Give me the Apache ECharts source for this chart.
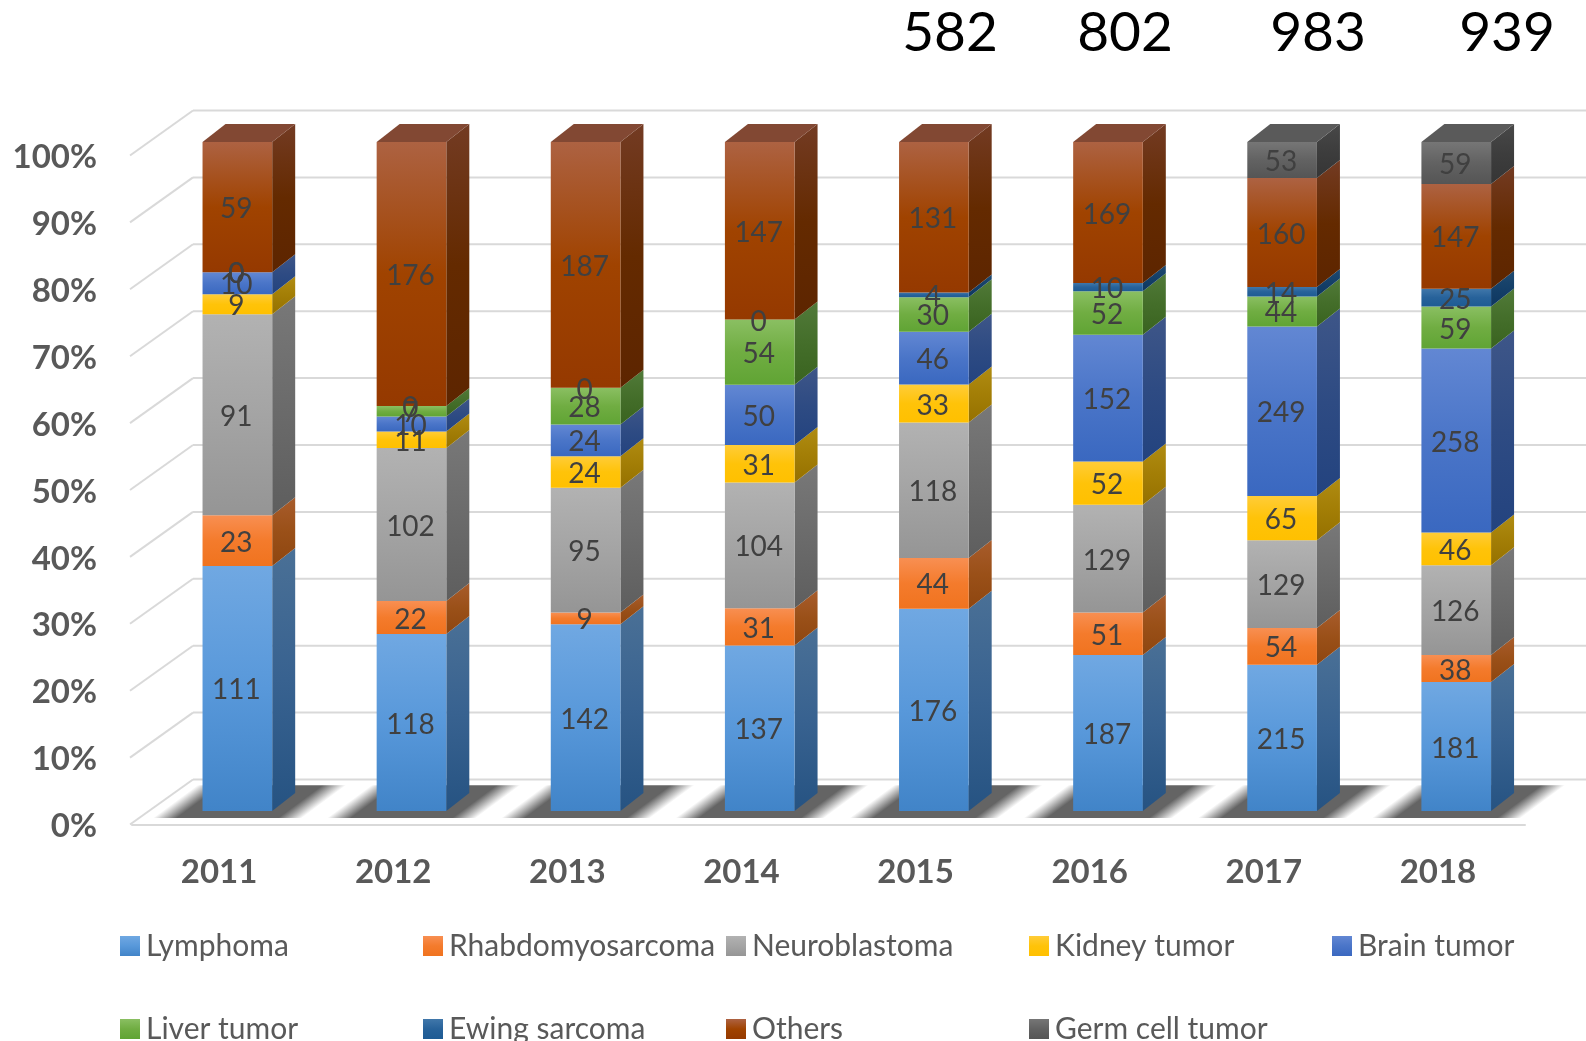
<!DOCTYPE html>
<html>
<head>
<meta charset="utf-8">
<title>Tumor types by year</title>
<script src="https://cdn.jsdelivr.net/npm/echarts@6/dist/echarts.min.js"></script>
<style>
    html, body { margin: 0; padding: 0; background: #fff; }
    #chart { width: 1586px; height: 1041px; }
</style>
</head>
<body>
<div id="chart"></div>
<script>
const years = ['2011', '2012', '2013', '2014', '2015', '2016', '2017', '2018'];
const seriesNames = ['Lymphoma', 'Rhabdomyosarcoma', 'Neuroblastoma', 'Kidney tumor', 'Brain tumor',
    'Liver tumor', 'Ewing sarcoma', 'Others', 'Germ cell tumor'];

// one value per year, null where the reference has no label at all
const lymphoma = [111, 118, 142, 137, 176, 187, 215, 181];
const rhabdomyosarcoma = [23, 22, 9, 31, 44, 51, 54, 38];
const neuroblastoma = [91, 102, 95, 104, 118, 129, 129, 126];
const kidneyTumor = [9, 11, 24, 31, 33, 52, 65, 46];
const brainTumor = [10, 10, 24, 50, 46, 152, 249, 258];
const liverTumor = [0, 7, 28, 54, 30, 52, 44, 59];
const ewingSarcoma = [0, 0, 0, 0, 4, 10, 14, 25];
const others = [59, 176, 187, 147, 131, 169, 160, 147];
const germCellTumor = [null, null, null, null, null, null, 53, 59];

const totalLabels = ['582', '802', '983', '939'];
const totalLabelX = [950, 1125, 1318, 1507];
const yTicks = [0, 10, 20, 30, 40, 50, 60, 70, 80, 90, 100];

// front [top, mid, bottom], side [top, mid, bottom], cap
const shades = [
    [['#70a8e2', '#5898da', '#4184c8'], ['#4a7096', '#386290', '#265382'], '#3f6a94'],
    [['#f88f52', '#f47b2c', '#f0731f'], ['#a85c2c', '#9a5018', '#8e4610'], '#a05a2c'],
    [['#b2b2b2', '#a4a4a4', '#959595'], ['#787878', '#6b6b6b', '#5e5e5e'], '#777777'],
    [['#ffcc38', '#ffc309', '#ffc000'], ['#b08c12', '#a37e06', '#957100'], '#ad8a18'],
    [['#6287d3', '#4a75c8', '#3a68c0'], ['#3e5688', '#2e4b83', '#23437f'], '#3e5688'],
    [['#8abf62', '#70ad42', '#60a434'], ['#517a39', '#446e2a', '#39631f'], '#517a39'],
    [['#4077aa', '#27629a', '#1e5b94'], ['#1f4a70', '#143f68', '#0e3760'], '#1f4a70'],
    [['#ad6242', '#a04300', '#953900'], ['#733b23', '#642a00', '#5d2500'], '#824833'],
    [['#767676', '#626262', '#555555'], ['#484848', '#3d3d3d', '#353535'], '#5a5a5a'],
];

const GRAY_TEXT = '#595959';
const LABEL_TEXT = '#404040';
const WALL_LINE = '#d9d9d9';
const FLOOR_SHADOW = '#646464';
const FONT = 'Lato, sans-serif';

// oblique projection of the plot box: depth 0 is the front plane, depth 1 the back wall
const DEPTH_X = 61;
const DEPTH_Y = -45;
const BAR_FRONT = 0.3;
const BAR_SIDE_X = 23;
const BAR_SIDE_Y = -18;

const columns = [lymphoma, rhabdomyosarcoma, neuroblastoma, kidneyTumor, brainTumor,
    liverTumor, ewingSarcoma, others, germCellTumor];

const yearTotals = years.map((_, i) => columns.reduce((sum, col) => sum + (col[i] || 0), 0));

function project(pt, depth) {
    return [pt[0] + DEPTH_X * depth, pt[1] + DEPTH_Y * depth];
}

function vGradient(stops) {
    return new echarts.graphic.LinearGradient(0, 0, 0, 1, [
        { offset: 0, color: stops[0] },
        { offset: 0.5, color: stops[1] },
        { offset: 1, color: stops[2] },
    ]);
}

function renderWall(params, api) {
    const v = api.value(0);
    const box = params.coordSys;
    const y = api.coord([0, v])[1];
    const lineStyle = { stroke: WALL_LINE, lineWidth: 2, fill: null };
    const corner = [box.x - 2, y];
    const cornerBack = project([box.x, y], 1);
    const rightBack = project([box.x + box.width, y], 1);
    return {
        type: 'group',
        children: [
            { type: 'line', shape: { x1: corner[0], y1: corner[1], x2: cornerBack[0], y2: cornerBack[1] }, style: lineStyle },
            { type: 'line', shape: { x1: cornerBack[0], y1: cornerBack[1], x2: rightBack[0], y2: rightBack[1] }, style: lineStyle },
        ],
    };
}

// soft shadow on the floor: the fade runs across the slanted edges of the parallelogram
function renderFloorShadow(params, api) {
    const base = api.coord([api.value(0), 0]);
    const left = base[0] - 75;
    const right = base[0] + 74;
    const near = 0.145;
    const far = 0.87;
    const pts = [
        project([left, base[1]], near),
        project([right, base[1]], near),
        project([right, base[1]], far),
        project([left, base[1]], far),
    ];
    const len = Math.hypot(DEPTH_X, DEPTH_Y);
    const nx = -DEPTH_Y / len;
    const ny = DEPTH_X / len;
    const across = (right - left) * nx;
    const x0 = pts[0][0];
    const y0 = pts[0][1];
    const fill = new echarts.graphic.LinearGradient(x0, y0, x0 + nx * across, y0 + ny * across, [
        { offset: 0, color: 'rgba(100,100,100,0)' },
        { offset: 0.16, color: FLOOR_SHADOW },
        { offset: 0.84, color: FLOOR_SHADOW },
        { offset: 1, color: 'rgba(100,100,100,0)' },
    ], true);
    return { type: 'polygon', shape: { points: pts }, style: { fill } };
}

function renderSegment(params, api) {
    const yearIdx = api.value(0);
    const from = api.coord([yearIdx, api.value(1)]);
    const to = api.coord([yearIdx, api.value(2)]);
    const half = api.size([1, 0])[0] * 0.2;
    const shade = shades[params.seriesIndex - 2];

    const fl = project([from[0] - half, from[1]], BAR_FRONT);
    const fr = project([from[0] + half, from[1]], BAR_FRONT);
    const tl = project([to[0] - half, to[1]], BAR_FRONT);
    const tr = project([to[0] + half, to[1]], BAR_FRONT);
    const toBack = p => [p[0] + BAR_SIDE_X, p[1] + BAR_SIDE_Y];

    const children = [];
    if (api.value(3) > 0) {
        children.push({
            type: 'polygon',
            shape: { points: [fr, toBack(fr), toBack(tr), tr] },
            style: { fill: vGradient(shade[1]) },
        });
        children.push({
            type: 'rect',
            shape: { x: tl[0], y: tl[1], width: tr[0] - tl[0], height: fl[1] - tl[1] },
            style: { fill: vGradient(shade[0]) },
        });
        if (api.value(2) >= 99.999) {
            children.push({
                type: 'polygon',
                shape: { points: [tl, tr, toBack(tr), toBack(tl)] },
                style: { fill: shade[2] },
            });
        }
    }
    children.push({
        type: 'text',
        z2: 100,
        style: {
            text: String(api.value(3)),
            x: (tl[0] + tr[0]) / 2 - 1,
            y: (tl[1] + fl[1]) / 2 + 2,
            fill: LABEL_TEXT,
            fontFamily: FONT,
            fontSize: 28,
            textAlign: 'center',
            textVerticalAlign: 'middle',
        },
    });
    return { type: 'group', children };
}

// running share of each year, so every segment carries [year, from%, to%, count]
const runningShare = years.map(() => 0);
const barSeries = columns.map((col, s) => {
    const data = [];
    col.forEach((val, i) => {
        if (val === null) return;
        const start = runningShare[i];
        runningShare[i] = start + val / yearTotals[i] * 100;
        data.push([i, start, runningShare[i], val]);
    });
    return {
        type: 'custom',
        name: seriesNames[s],
        z: 3,
        renderItem: renderSegment,
        encode: { x: 0, y: [1, 2] },
        itemStyle: { color: shades[s][0][1] },
        data,
    };
});

const legends = seriesNames.map((name, i) => ({
    show: true,
    selectedMode: false,
    icon: 'rect',
    padding: 0,
    itemWidth: 20,
    itemHeight: 20,
    left: 120 + (i % 5) * 303,
    top: i < 5 ? 931 : 1014,
    textStyle: { color: GRAY_TEXT, fontFamily: FONT, fontSize: 30, padding: [0, 0, 0, 1] },
    data: [{ name, itemStyle: { color: vGradient(shades[i][0]) } }],
}));

const chart = echarts.init(document.getElementById('chart'));
chart.setOption({
    backgroundColor: '#ffffff',
    animation: false,
    tooltip: { show: false },
    legend: legends,
    grid: { left: 132, right: 61, top: 155.5, bottom: 216.5, containLabel: false },
    xAxis: {
        type: 'category',
        data: years,
        axisLine: { show: true, lineStyle: { color: WALL_LINE, width: 2 } },
        axisTick: { show: false },
        axisLabel: { color: GRAY_TEXT, fontFamily: FONT, fontWeight: 'bold', fontSize: 33, margin: 31 },
    },
    yAxis: {
        type: 'value',
        min: 0,
        max: 100,
        interval: 10,
        axisLine: { show: false },
        axisTick: { show: false },
        splitLine: { show: false },
        axisLabel: { color: GRAY_TEXT, fontFamily: FONT, fontWeight: 'bold', fontSize: 33, margin: 35, verticalAlign: 'top', lineHeight: 4, formatter: '{value}%' },
    },
    graphic: totalLabels.map((text, i) => ({
        type: 'text',
        style: {
            text,
            x: totalLabelX[i],
            y: 33,
            fill: '#000000',
            fontFamily: FONT,
            fontSize: 55,
            textAlign: 'center',
            textVerticalAlign: 'middle',
        },
    })),
    series: [
        {
            type: 'custom',
            name: 'walls',
            z: 1,
            renderItem: renderWall,
            encode: { y: 0 },
            data: yTicks.map(v => [v]),
        },
        {
            type: 'custom',
            name: 'floor',
            z: 2,
            renderItem: renderFloorShadow,
            encode: { x: 0 },
            data: years.map((_, i) => [i]),
        },
        ...barSeries,
    ],
});
</script>
</body>
</html>
